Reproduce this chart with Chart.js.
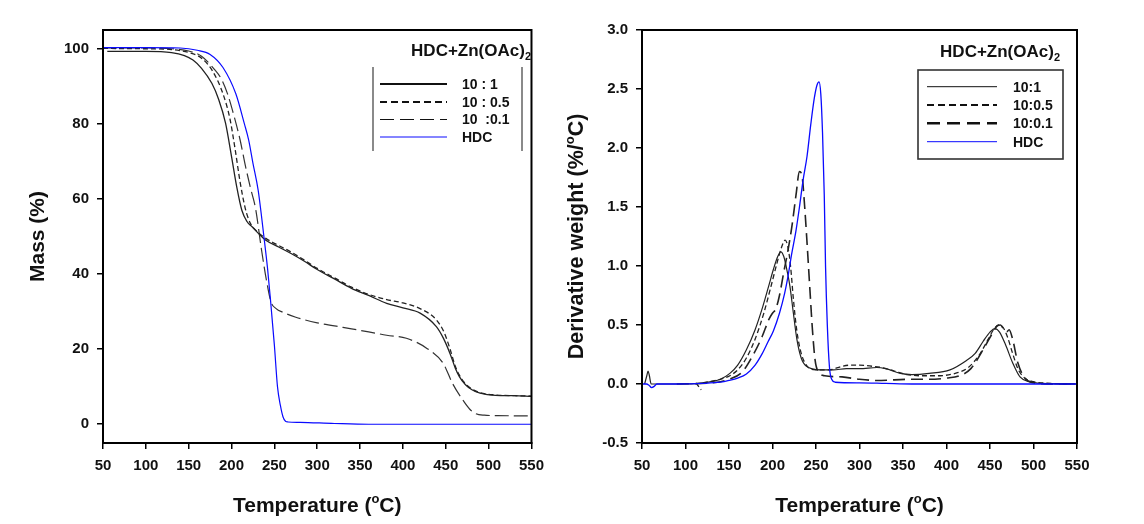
<!DOCTYPE html>
<html>
<head>
<meta charset="utf-8">
<title>TGA / DTG - HDC+Zn(OAc)2</title>
<script src="https://cdn.jsdelivr.net/npm/chart.js"></script>
<style>
    html, body { margin: 0; padding: 0; background: #fff; }
    .panel { position: absolute; top: 0; }
    #leftPanel { left: 0; width: 552px; height: 524px; }
    #rightPanel { left: 552px; width: 592px; height: 524px; }
</style>
</head>
<body>
<div class="panel" id="leftPanel"><canvas id="tgaChart" width="552" height="524"></canvas></div>
<div class="panel" id="rightPanel"><canvas id="dtgChart" width="592" height="524"></canvas></div>
<script>
// ---- data ----
const tempTicks = [50, 100, 150, 200, 250, 300, 350, 400, 450, 500, 550];
const massTicks = [0, 20, 40, 60, 80, 100];
const derivTicks = [-0.5, 0.0, 0.5, 1.0, 1.5, 2.0, 2.5, 3.0];
const seriesNames = ['10 : 1', '10 : 0.5', '10  :0.1', 'HDC'];
const seriesNamesDtg = ['10:1', '10:0.5', '10:0.1', 'HDC'];

// Mass (%) curves
const tgaT_1 = [55, 100, 130, 145, 155, 165, 177, 185, 193, 200, 206, 212, 218, 224, 231, 240, 255, 270, 285, 300, 320, 340, 360, 381, 400, 420, 439, 447, 455, 461, 466, 473, 481, 490, 508, 530, 550];
const tgaM_1 = [99.3, 99.3, 99.0, 98.2, 97.0, 94.8, 90.8, 86.5, 80.2, 71.3, 63.3, 57.0, 54.0, 52.6, 50.9, 49.0, 47.2, 45.4, 43.4, 41.2, 38.7, 36.2, 34.3, 32.2, 31.0, 29.6, 26.0, 23.0, 18.8, 15.0, 12.6, 10.5, 9.1, 8.3, 7.7, 7.6, 7.4];
const tgaT_05 = [50, 100, 130, 150, 165, 178, 190, 198, 204, 210, 216, 222, 230, 240, 255, 270, 285, 300, 320, 340, 360, 381, 400, 420, 439, 448, 455, 461, 466, 473, 481, 490, 508, 530, 550];
const tgaM_05 = [100.1, 100.0, 99.8, 99.0, 97.5, 94.0, 88.0, 81.5, 73.5, 64.5, 57.5, 53.5, 51.3, 49.5, 47.6, 45.8, 43.7, 41.5, 39.0, 36.5, 34.6, 33.2, 32.3, 30.8, 27.8, 24.5, 20.0, 15.5, 13.0, 10.8, 9.3, 8.4, 7.8, 7.6, 7.5];
const tgaT_01 = [50, 100, 130, 150, 165, 180, 188, 195, 203, 210, 216, 222, 228, 235, 241, 246, 252, 260, 275, 300, 330, 360, 381, 404, 428, 447, 458, 470, 478, 485, 495, 510, 550];
const tgaM_01 = [100.2, 100.2, 100.0, 99.4, 98.0, 94.5, 92.0, 88.2, 82.0, 75.7, 69.0, 63.0, 57.5, 46.4, 38.0, 32.6, 30.8, 29.8, 28.5, 27.0, 25.8, 24.6, 23.7, 22.9, 20.2, 16.2, 10.8, 6.4, 4.0, 2.8, 2.4, 2.3, 2.2];
const tgaT_hdc = [50, 100, 140, 160, 175, 190, 205, 215, 220, 225, 231, 238, 242, 245.5, 250, 253.6, 257, 260, 263, 266, 280, 320, 360, 550];
const tgaM_hdc = [100.3, 100.3, 100.2, 99.6, 98.5, 95.0, 88.0, 80.0, 75.7, 69.5, 62.4, 49.5, 41.5, 33.0, 21.0, 10.0, 5.0, 2.0, 0.8, 0.6, 0.5, 0.2, 0.0, 0.0];

// Derivative weight (%/°C) curves
const dtgT_1 = [53, 55.5, 57, 58.5, 60.5, 90, 120, 140, 151, 160, 170, 180, 189, 196, 201, 206, 209.5, 213, 217, 220, 224, 228, 233, 239, 255, 270, 285, 300, 320, 330, 347, 360, 380, 404, 423, 433, 442, 450, 455.7, 461, 468, 476, 484.5, 495, 510, 550];
const dtgD_1 = [0, 0.07, 0.11, 0.07, 0, 0, 0.01, 0.04, 0.09, 0.16, 0.29, 0.46, 0.66, 0.84, 0.97, 1.08, 1.12, 1.08, 0.95, 0.83, 0.6, 0.38, 0.22, 0.15, 0.12, 0.12, 0.13, 0.13, 0.14, 0.13, 0.09, 0.08, 0.09, 0.12, 0.2, 0.26, 0.36, 0.44, 0.47, 0.44, 0.33, 0.18, 0.06, 0.02, 0.005, 0];
const dtgT_05 = [112, 115, 118, 119, 120, 140, 151, 160, 170, 180, 190, 198, 205, 210, 214.6, 218, 221, 224, 228, 233, 240, 250, 265, 280, 290, 300, 315, 325, 340, 355, 370, 390, 410, 425, 438, 448, 455, 460, 465, 470, 476, 482, 490, 500, 520, 550];
const dtgD_05 = [0.01, -0.02, -0.05, null, 0.01, 0.04, 0.07, 0.12, 0.22, 0.38, 0.6, 0.82, 1.02, 1.15, 1.22, 1.15, 0.98, 0.72, 0.45, 0.26, 0.15, 0.12, 0.12, 0.15, 0.16, 0.16, 0.15, 0.14, 0.11, 0.08, 0.07, 0.07, 0.09, 0.14, 0.25, 0.38, 0.47, 0.5, 0.48, 0.4, 0.26, 0.13, 0.05, 0.02, 0.005, 0];
const dtgT_01 = [90, 130, 150, 165, 178, 188, 196, 200, 204, 208, 213, 217, 222, 227, 231, 234, 237, 239.5, 243, 246, 249, 253, 260, 280, 300, 320, 340, 360, 380, 400, 415, 428, 442, 452, 458, 462, 466, 469, 472, 476, 482, 490, 500, 520, 550];
const dtgD_01 = [0, 0.01, 0.04, 0.1, 0.25, 0.4, 0.55, 0.6, 0.64, 0.75, 0.95, 1.1, 1.32, 1.6, 1.8, 1.76, 1.5, 1.22, 0.8, 0.45, 0.2, 0.1, 0.07, 0.06, 0.04, 0.03, 0.035, 0.04, 0.04, 0.05, 0.07, 0.13, 0.29, 0.42, 0.49, 0.5, 0.46, 0.44, 0.46, 0.38, 0.18, 0.05, 0.01, 0, 0];
const dtgT_hdc = [50, 55, 58, 61, 64, 67, 90, 120, 140, 150, 160, 170, 180, 188, 195, 201, 208, 214, 218, 222, 227, 231, 235, 239.7, 244, 248, 251, 253.5, 255.5, 257.5, 259.5, 261, 263, 265.5, 268, 272, 300, 330, 360, 550];
const dtgD_hdc = [0, 0, -0.01, -0.03, -0.02, 0, 0, 0.005, 0.015, 0.03, 0.05, 0.085, 0.16, 0.255, 0.36, 0.45, 0.6, 0.77, 0.92, 1.1, 1.3, 1.5, 1.72, 1.93, 2.2, 2.42, 2.53, 2.56, 2.46, 2.13, 1.6, 0.99, 0.5, 0.14, 0.04, 0.015, 0.01, 0.005, 0, 0];

// ---- styling ----
const FONT = "'Liberation Sans', Arial, sans-serif";
const blue = '#0a0aff';

const pts = (xs, ys) => xs.map((x, i) => ({ x: x, y: ys[i] }));

function lineSet(label, data, color, width, dash, order) {
    return {
        label: label,
        data: data,
        borderColor: color,
        borderWidth: width,
        borderDash: dash,
        pointRadius: 0,
        fill: false,
        cubicInterpolationMode: 'monotone',
        spanGaps: false,
        order: order
    };
}

// draws text made of runs of different size (superscripts / subscripts)
function drawRich(ctx, parts, x, y, align, rotate) {
    ctx.save();
    ctx.translate(x, y);
    if (rotate) ctx.rotate(-Math.PI / 2);
    let total = 0;
    parts.forEach(p => {
        ctx.font = `bold ${p.size}px ${FONT}`;
        p.w = ctx.measureText(p.text).width;
        total += p.w;
    });
    let cx = align === 'right' ? -total : (align === 'left' ? 0 : -total / 2);
    ctx.fillStyle = '#111';
    ctx.textBaseline = 'alphabetic';
    parts.forEach(p => {
        ctx.font = `bold ${p.size}px ${FONT}`;
        ctx.fillText(p.text, cx, p.dy || 0);
        cx += p.w;
    });
    ctx.restore();
}

const tempTitle = [
    { text: 'Temperature (', size: 21 },
    { text: 'o', size: 13, dy: -9 },
    { text: 'C)', size: 21 }
];
const legendTitle = [
    { text: 'HDC+Zn(OAc)', size: 17 },
    { text: '2', size: 11, dy: 4 }
];

// frame, axis titles and the boxed legend
function framePlugin(opts) {
    return {
        id: 'frame' + opts.key,
        afterDraw(chart) {
            const ctx = chart.ctx;
            const a = chart.chartArea;
            ctx.save();
            ctx.strokeStyle = '#000';
            ctx.lineWidth = 2;
            ctx.strokeRect(a.left, a.top, a.right - a.left, a.bottom - a.top);
            ctx.restore();

            drawRich(ctx, tempTitle, (a.left + a.right) / 2, 512, 'center', false);
            drawRich(ctx, opts.yTitle, opts.yTitleX, (a.top + a.bottom) / 2, 'center', true);

            // legend
            const L = opts.legend;
            drawRich(ctx, legendTitle, L.titleRight, L.titleY, 'right', false);
            ctx.save();
            if (L.box) {
                ctx.strokeStyle = '#333';
                ctx.lineWidth = 1.6;
                ctx.strokeRect(L.box[0], L.box[1], L.box[2] - L.box[0], L.box[3] - L.box[1]);
            } else {
                ctx.strokeStyle = '#8a8a8a';
                ctx.lineWidth = 2;
                L.bars.forEach(bx => {
                    ctx.beginPath();
                    ctx.moveTo(bx, L.barTop);
                    ctx.lineTo(bx, L.barBottom);
                    ctx.stroke();
                });
            }
            L.items.forEach((it, i) => {
                const yy = L.rows[i];
                ctx.strokeStyle = it.color;
                ctx.lineWidth = it.width;
                ctx.setLineDash(it.dash);
                ctx.beginPath();
                ctx.moveTo(L.lineX[0], yy);
                ctx.lineTo(L.lineX[1], yy);
                ctx.stroke();
                ctx.setLineDash([]);
                ctx.fillStyle = '#111';
                ctx.font = `bold ${L.fontSize}px ${FONT}`;
                ctx.textBaseline = 'middle';
                ctx.textAlign = 'left';
                ctx.fillText(it.label, L.textX, yy + 1);
            });
            ctx.restore();
        }
    };
}

function axisCommon(min, max, ticks, fmt) {
    return {
        type: 'linear',
        min: min,
        max: max,
        afterBuildTicks: s => { s.ticks = ticks.map(v => ({ value: v })); },
        grid: {
            display: true,
            drawOnChartArea: false,
            drawTicks: true,
            tickLength: 6,
            color: '#000',
            lineWidth: 1.5
        },
        border: { display: true, color: '#000', width: 2 },
        ticks: {
            padding: 8,
            color: '#111',
            autoSkip: false,
            maxRotation: 0,
            font: { family: FONT, weight: 'bold', size: 15 },
            callback: fmt
        },
        title: { display: false }
    };
}

function makeOptions(yMin, yMax, yTicks, yFmt, yWidth, rightPad) {
    const x = axisCommon(50, 550, tempTicks, v => String(v));
    x.afterFit = s => { s.height = 81; };
    const y = axisCommon(yMin, yMax, yTicks, yFmt);
    y.afterFit = s => { s.width = yWidth; };
    return {
        responsive: false,
        animation: false,
        events: [],
        layout: { padding: { top: 30, right: rightPad, left: 0, bottom: 0 } },
        plugins: { legend: { display: false }, tooltip: { enabled: false } },
        scales: { x: x, y: y }
    };
}

// ---- left: mass loss ----
new Chart(document.getElementById('tgaChart'), {
    type: 'line',
    data: {
        datasets: [
            lineSet(seriesNames[3], pts(tgaT_hdc, tgaM_hdc), blue, 1.2, [], 0),
            lineSet(seriesNames[0], pts(tgaT_1, tgaM_1), '#222', 1.3, [], 1),
            lineSet(seriesNames[1], pts(tgaT_05, tgaM_05), '#222', 1.3, [5, 3], 1),
            lineSet(seriesNames[2], pts(tgaT_01, tgaM_01), '#333', 1.2, [14, 5], 1)
        ]
    },
    options: makeOptions(-5, 105, massTicks, v => String(v), 103, 16),
    plugins: [framePlugin({
        key: 'L',
        yTitle: [{ text: 'Mass (%)', size: 21 }],
        yTitleX: 44,
        legend: {
            titleRight: 531, titleY: 56,
            bars: [373, 522], barTop: 67, barBottom: 151,
            lineX: [380, 447], textX: 462, rows: [84, 102, 119.5, 137],
            fontSize: 14,
            items: [
                { label: seriesNames[0], color: '#111', width: 2.2, dash: [] },
                { label: seriesNames[1], color: '#111', width: 2.2, dash: [7, 4] },
                { label: seriesNames[2], color: '#111', width: 1, dash: [14, 6] },
                { label: seriesNames[3], color: blue, width: 1, dash: [] }
            ]
        }
    })]
});

// ---- right: derivative weight ----
new Chart(document.getElementById('dtgChart'), {
    type: 'line',
    data: {
        datasets: [
            lineSet(seriesNamesDtg[3], pts(dtgT_hdc, dtgD_hdc), blue, 1.3, [], 0),
            lineSet(seriesNamesDtg[0], pts(dtgT_1, dtgD_1), '#222', 1.2, [], 1),
            lineSet(seriesNamesDtg[1], pts(dtgT_05, dtgD_05), '#222', 1.3, [5, 3], 1),
            lineSet(seriesNamesDtg[2], pts(dtgT_01, dtgD_01), '#222', 1.6, [12, 6], 1)
        ]
    },
    options: makeOptions(-0.5, 3.0, derivTicks, v => v.toFixed(1), 90, 67),
    plugins: [framePlugin({
        key: 'R',
        yTitle: [
            { text: 'Derivative weight (%/', size: 21.5 },
            { text: 'o', size: 13, dy: -9 },
            { text: 'C)', size: 21.5 }
        ],
        yTitleX: 31,
        legend: {
            titleRight: 508, titleY: 57,
            box: [366, 70, 511, 159],
            lineX: [375, 445], textX: 461, rows: [86.7, 105, 123.3, 141.7],
            fontSize: 14,
            items: [
                { label: seriesNamesDtg[0], color: '#111', width: 1, dash: [] },
                { label: seriesNamesDtg[1], color: '#111', width: 2, dash: [7, 4] },
                { label: seriesNamesDtg[2], color: '#111', width: 2.5, dash: [13, 7] },
                { label: seriesNamesDtg[3], color: blue, width: 1, dash: [] }
            ]
        }
    })]
});
</script>
</body>
</html>
